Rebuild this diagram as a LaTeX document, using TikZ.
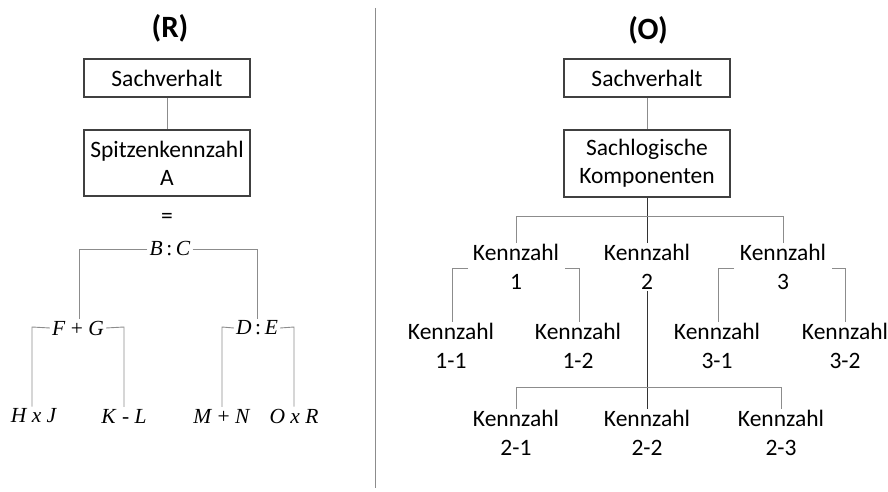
\documentclass[tikz,border=0pt]{standalone}
\usepackage{fontspec}
\setmainfont{Carlito}
\newfontfamily\formfont{Liberation Serif}
\newcommand{\fv}[1]{\textit{#1}}
\begin{document}
\begin{tikzpicture}[x=1pt,y=-1pt,
  box/.style={draw=black!75,line width=1.2pt,minimum width=166pt,inner sep=0pt,align=center,font=\fontsize{23.5}{28}\selectfont},
  lbl/.style={inner sep=1pt,align=center,font=\fontsize{23.5}{29}\selectfont},
  mth/.style={inner sep=2pt,font=\fontsize{21.5}{22}\selectfont\formfont},
  ttl/.style={font=\fontsize{31}{34}\selectfont\bfseries},
  link/.style={draw=black!45,line width=0.9pt},
  dark/.style={draw=black!80,line width=0.9pt}]
\useasboundingbox (0,0) rectangle (888,492);

% divider
\draw[draw=black!45,line width=1pt] (375,8) -- (375,488);

% ---------- left tree (R) ----------
\node[ttl] (tR) at (170,28) {(R)};
\node[box,minimum height=38pt] (rS) at (167,78) {Sachverhalt};
\node[box,minimum height=66pt] (rA) at (167,163) {Spitzenkennzahl\\A};
\draw[link] (rS.south) -- (rA.north);
\node[lbl] (eq) at (167,218) {=};

\node[mth] (BC) at (170,249) {\fv{B}\,:\,\fv{C}};
\node[mth] (FG) at (78,328) {\fv{F} + \fv{G}};
\node[mth] (DE) at (257,328) {\fv{D}\,:\,\fv{E}};
\node[mth] (HJ) at (34,416) {\fv{H x J}};
\node[mth] (KL) at (124,416) {\fv{K} - \fv{L}};
\node[mth] (MN) at (222,416) {\fv{M} + \fv{N}};
\node[mth] (OR) at (294,416) {\fv{O x R}};

\coordinate (bcL) at (79,249);
\coordinate (bcR) at (257,249);
\draw[link] (BC.west) -- (bcL) -- (bcL |- FG.north);
\draw[link] (BC.east) -- (bcR) -- (bcR |- DE.north);

\coordinate (fgL) at (32,327);
\coordinate (fgR) at (124,327);
\draw[link] (FG.west) -- (fgL) -- (fgL |- HJ.north);
\draw[link] (FG.east) -- (fgR) -- (fgR |- KL.north);

\coordinate (deL) at (222,327);
\coordinate (deR) at (294,327);
\draw[link] (DE.west) -- (deL) -- (deL |- MN.north);
\draw[link] (DE.east) -- (deR) -- (deR |- OR.north);

% ---------- right tree (O) ----------
\node[ttl] (tO) at (648,30) {(O)};
\node[box,minimum height=38pt] (oS) at (647,78) {Sachverhalt};
\node[box,minimum height=67pt] (oK) at (647,163.5) {Sachlogische\\Komponenten};
\draw[link] (oS.south) -- (oK.north);

\node[lbl] (k1) at (516,267) {Kennzahl\\1};
\node[lbl] (k2) at (647,267) {Kennzahl\\2};
\node[lbl] (k3) at (783,267) {Kennzahl\\3};

\node[lbl] (k11) at (451,346) {Kennzahl\\1-1};
\node[lbl] (k12) at (578,346) {Kennzahl\\1-2};
\node[lbl] (k31) at (717,346) {Kennzahl\\3-1};
\node[lbl] (k32) at (845,346) {Kennzahl\\3-2};

\node[lbl] (k21) at (516,433) {Kennzahl\\2-1};
\node[lbl] (k22) at (647,433) {Kennzahl\\2-2};
\node[lbl] (k23) at (781,433) {Kennzahl\\2-3};

% level 1 bus
\coordinate (busA) at (647,216);
\draw[dark] (oK.south) -- (k2.north);
\draw[link] (busA -| k1) -- (busA -| k3);
\draw[link] (busA -| k1) -- (k1.north);
\draw[link] (busA -| k3) -- (k3.north);

% children of Kennzahl 1
\coordinate (b1L) at (452,268);
\coordinate (b1R) at (579,268);
\draw[link] (468,268) -- (b1L) -- (b1L |- k11.north);
\draw[link] (565,268) -- (b1R) -- (b1R |- k12.north);

% children of Kennzahl 3
\coordinate (b3L) at (718,268);
\coordinate (b3R) at (845,268);
\draw[link] (734,268) -- (b3L) -- (b3L |- k31.north);
\draw[link] (832,268) -- (b3R) -- (b3R |- k32.north);

% children of Kennzahl 2
\coordinate (busB) at (647,387);
\draw[dark] (k2.south) -- (k22.north);
\draw[link] (busB -| k21) -- (busB -| k23);
\draw[link] (busB -| k21) -- (k21.north);
\draw[link] (busB -| k23) -- (k23.north);
\end{tikzpicture}
\end{document}
